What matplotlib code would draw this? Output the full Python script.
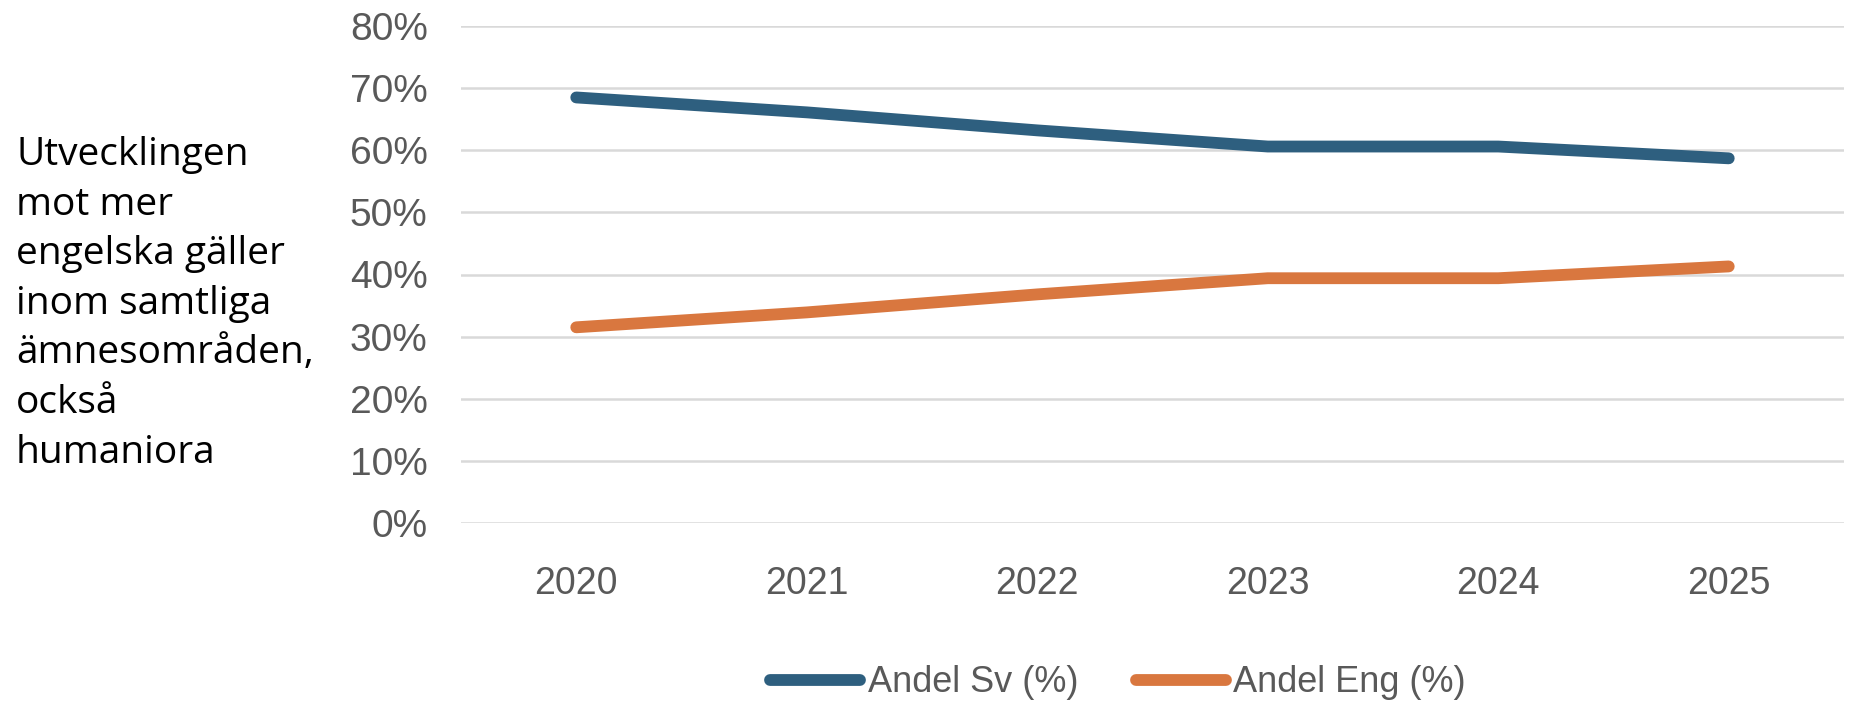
import matplotlib
matplotlib.use("Agg")
import matplotlib.pyplot as plt
from matplotlib.ticker import FixedLocator, FuncFormatter

years = ["2020", "2021", "2022", "2023", "2024", "2025"]
andel_sv = [68.5, 66.1, 63.2, 60.6, 60.6, 58.7]
andel_eng = [31.5, 33.9, 36.8, 39.4, 39.4, 41.3]
series_names = ["Andel Sv (%)", "Andel Eng (%)"]
y_ticks = [0, 10, 20, 30, 40, 50, 60, 70, 80]
side_text = "Utvecklingen\nmot mer\nengelska gäller\ninom samtliga\nämnesområden,\nockså\nhumaniora"

W, H = 1861, 702
fig = plt.figure(figsize=(W / 100, H / 100), dpi=100)
fig.patch.set_facecolor("white")

narrow = ["Liberation Sans", "DejaVu Sans"]
grey = "#595959"

ax = fig.add_axes([461 / W, 1 - 523 / H, (1844 - 461) / W, (523 - 26) / H])
x = list(range(len(years)))
ax.plot(x, andel_sv, color="#2E5F7F", lw=8.5, solid_capstyle="round",
        solid_joinstyle="round", label=series_names[0], zorder=3)
ax.plot(x, andel_eng, color="#D9773F", lw=8.5, solid_capstyle="round",
        solid_joinstyle="round", label=series_names[1], zorder=3)

ax.set_xlim(-0.5, len(years) - 0.5)
ax.set_ylim(0, 80)
ax.yaxis.set_major_locator(FixedLocator(y_ticks))
ax.yaxis.set_major_formatter(FuncFormatter(lambda v, p: f"{int(v)}%"))
ax.set_xticks(x)
ax.set_xticklabels(years)
ax.grid(axis="y", color="#D9D9D9", lw=1.8, zorder=0)
ax.set_axisbelow(True)
for s in ax.spines.values():
    s.set_visible(False)
ax.tick_params(axis="both", length=0)
ax.tick_params(axis="y", pad=24, labelsize=28, labelcolor=grey)
ax.tick_params(axis="x", pad=31, labelsize=27, labelcolor=grey)
for lab in ax.get_xticklabels() + ax.get_yticklabels():
    lab.set_family(narrow)

leg = fig.legend(loc="center", bbox_to_anchor=(1118 / W, 1 - 683 / H),
                 ncol=2, frameon=False, handlelength=2.5, handletextpad=0.2,
                 columnspacing=1.6, prop={"family": narrow, "size": 26})
for t in leg.get_texts():
    t.set_color(grey)

fig.text(16 / W, 1 - 136 / H, side_text, ha="left", va="top",
         fontsize=28, color="black", family=["Open Sans", "DejaVu Sans"],
         linespacing=1.40)

fig.savefig("out.png", dpi=100, facecolor="white")
